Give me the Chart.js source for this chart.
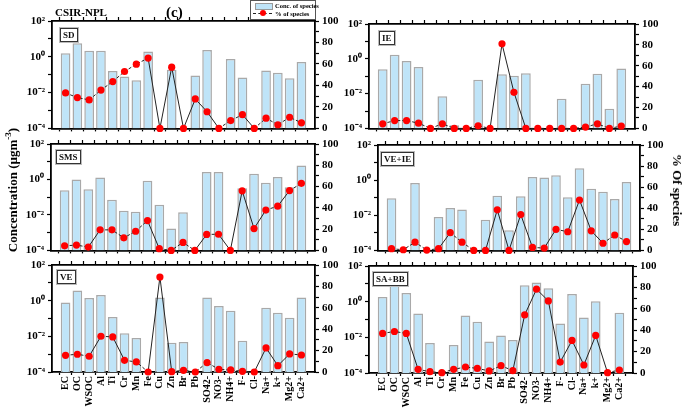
<!DOCTYPE html>
<html><head><meta charset="utf-8">
<script src="https://cdn.jsdelivr.net/npm/chart.js@4/dist/chart.umd.min.js"></script>
<style>
body{margin:0;width:685px;height:412px;position:relative;background:#fff;overflow:hidden;font-family:"Liberation Serif",serif;font-weight:bold;color:#000;}
canvas{position:absolute;}
.t{position:absolute;white-space:nowrap;}
.lab{position:absolute;border:1px solid #333;box-shadow:0 0 0 1px #bbb;background:#fff;font-size:9px;line-height:12px;padding:0 2px;color:#111;}
.rot{position:absolute;white-space:nowrap;font-size:13px;}
</style></head><body>
<div class="t" style="left:55px;top:6px;font-size:11px;">CSIR-NPL</div>
<div class="t" style="left:166px;top:4px;font-size:15px;">(c)</div>
<div class="t" style="left:250px;top:0px;width:64px;height:18px;border:1px solid #555;background:#fff;z-index:5;">
  <div style="position:absolute;left:4px;top:2px;width:16px;height:5px;background:#bfe4f8;border:1px solid #999;"></div>
  <div style="position:absolute;left:24px;top:0px;font-size:6.5px;line-height:9px;">Conc. of species</div>
  <div style="position:absolute;left:2px;top:12px;width:19px;height:0;border-top:1px dashed #222;"></div>
  <div style="position:absolute;left:9px;top:9px;width:6px;height:6px;border-radius:50%;background:#f00;"></div>
  <div style="position:absolute;left:24px;top:8px;font-size:6.5px;line-height:9px;">% of species</div>
</div>
<div class="rot" style="left:12px;top:190px;transform:translate(-50%,-50%) rotate(-90deg);">Concentration (µgm<sup style="font-size:9px">-3</sup>)</div>
<div class="rot" style="left:677px;top:190px;transform:translate(-50%,-50%) rotate(90deg);">% Of species</div>
<div class="lab" style="left:60px;top:28px;z-index:5;">SD</div>
<div class="lab" style="left:379px;top:31px;z-index:5;">IE</div>
<div class="lab" style="left:56px;top:150px;z-index:5;">SMS</div>
<div class="lab" style="left:381px;top:152px;z-index:5;">VE+IE</div>
<div class="lab" style="left:57px;top:270px;z-index:5;">VE</div>
<div class="lab" style="left:373px;top:272px;z-index:5;">SA+BB</div>
<script>
const categories = ['EC','OC','WSOC','Al','Ti','Cr','Mn','Fe','Cu','Zn','Br','Pb','SO42-','NO3-','NH4+','F-','Cl-','Na+','k+','Mg2+','Ca2+'];

const sdConc  = [1.6,5.7,2.2,2.2,0.16,0.08,0.049,2.0,null,0.19,null,0.089,2.4,null,0.76,0.07,null,0.17,0.13,0.063,0.51];
const sdPct   = [33,28.7,26.5,35.7,43.6,53,59.8,65.5,0,57,0,27.4,15.5,0,7.3,12.8,0,9.5,3.4,10.4,5.2];
const ieConc  = [0.25,1.7,0.74,0.34,null,0.007,0.00015,null,0.063,null,0.13,0.105,0.15,null,null,0.005,null,0.037,0.14,0.00135,0.28];
const iePct   = [4.4,7.5,7.5,5,0,4.4,0,0,2.5,0,81,34.6,0,0,0,0,0,1.3,4.4,0,2.2];
const smsConc = [0.25,1.0,0.28,1.3,0.071,0.017,0.015,0.85,0.037,0.0017,0.014,null,2.6,2.6,null,0.32,2.1,0.66,1.4,0.36,6.2];
const smsPct  = [4.3,5,3.1,19.3,19.3,11.8,18,28,1.6,0,7.5,0,15,15.2,0,56,20.5,37.9,41.6,56.2,63];
const veieConc= [0.092,null,0.69,null,0.008,0.026,0.021,null,0.0055,0.13,0.0014,0.12,1.5,1.4,1.9,0.105,4.8,0.32,0.22,0.085,0.79];
const veiePct = [1.6,0.6,7.8,0.3,1.6,16.8,7.8,0,0,38.5,0,34,2.8,2.2,20,17.7,47.8,18.6,6.8,14.6,8.4];
const veConc  = [0.79,3.7,1.4,2.1,0.12,0.015,0.0081,null,1.5,0.0043,0.0048,null,1.5,0.51,0.27,0.0057,null,0.4,0.21,0.11,1.5];
const vePct   = [15.6,16.6,14.7,33.4,32.8,10.9,9.4,0,88.8,0.3,1.6,0,8.8,2.5,1.9,0.6,0,22.5,5.9,16.9,15.9];
const sabbConc= [1.8,8,3.1,0.22,0.0048,null,0.0037,0.17,0.074,0.0059,0.0126,0.0072,8.3,12,5.6,0.06,2.7,0.13,1.05,null,0.24];
const sabbPct = [37,38.8,37,3.4,1.2,0.3,3.4,5.6,4.3,1.9,6.8,2.2,54.3,78.3,67.4,10.2,30.4,7.5,35.1,0.3,2.8];

const logTicks = [1e-4,1e-3,1e-2,1e-1,1,10,100];
const pctTicks = [0,10,20,30,40,50,60,70,80,90,100];

const panels = [
  {conc:sdConc,  pct:sdPct,  L:52, R:315, T:21,  B:130, bottom:false},
  {conc:ieConc,  pct:iePct,  L:369,R:635, T:24,  B:130, bottom:false},
  {conc:smsConc, pct:smsPct, L:51, R:315, T:144, B:252, bottom:false},
  {conc:veieConc,pct:veiePct,L:378,R:640, T:145, B:252, bottom:false},
  {conc:veConc,  pct:vePct,  L:52, R:315, T:265, B:372, bottom:true},
  {conc:sabbConc,pct:sabbPct,L:369,R:633, T:266, B:373, bottom:true}
];

const SUP = {'0':'⁰','1':'¹','2':'²','3':'³','4':'⁴','-':'⁻'};
const sup = n => String(n).split('').map(c=>SUP[c]).join('');
const FONT = {family:"'Liberation Serif', serif", weight:'bold', size:11};
const XFONT = {family:"'Liberation Serif', serif", weight:'bold', size:10};
const BORDER = {display:true, color:'#000', width:1.8};
const GRID = {display:true, drawOnChartArea:false, drawTicks:true, tickLength:4, tickColor:'#000', tickWidth:1.2, color:'#000'};

const WL=45, WR=36, PT=6, TOPH=4;
panels.forEach(p => {
  const hX = p.bottom ? 412 - p.B : 8;
  const c = document.createElement('canvas');
  const w = (p.R - p.L) + WL + WR, h = (p.B - p.T) + PT + TOPH + hX;
  c.width = w; c.height = h;
  c.style.left = (p.L - WL) + 'px'; c.style.top = (p.T - PT - TOPH) + 'px';
  c.style.width = w + 'px'; c.style.height = h + 'px';
  document.body.insertBefore(c, document.body.firstChild);
  const catTicks = s => { s.ticks = categories.map((_,i)=>({value:i})); };
  new Chart(c, {
    type:'bar',
    data:{ datasets:[
      {type:'line', label:'% of species', data:p.pct.map((v,i)=>({x:i,y:v})), xAxisID:'x', yAxisID:'y2',
       borderColor:'#222', borderWidth:1, tension:0,
       segment:{borderDash: ctx => Math.abs(ctx.p1.parsed.y - ctx.p0.parsed.y) > 10 ? [] : [3,2]},
       pointRadius:3.6, pointBackgroundColor:'#ff0000', pointBorderColor:'#ff0000', pointBorderWidth:0,
       clip:false, order:0},
      {type:'bar', label:'Conc. of species', data:p.conc.map((v,i)=>({x:i,y:v})), xAxisID:'x', yAxisID:'y',
       backgroundColor:'#bfe4f8', borderColor:'#a9a9a9', borderWidth:1.5, borderSkipped:'start',
       barPercentage:0.82, categoryPercentage:1, order:1}
    ]},
    options:{
      responsive:false, animation:false, events:[], devicePixelRatio:1,
      layout:{padding:{top:PT, left:0, right:0, bottom:0}},
      plugins:{legend:{display:false}, tooltip:{enabled:false}},
      scales:{
        x:{type:'linear', position:'bottom', min:-1.15, max:21.15, offset:false,
           grid:Object.assign({}, GRID, {tickLength:3}), border:BORDER,
           afterBuildTicks: catTicks,
           ticks:{display:p.bottom, autoSkip:false, minRotation:90, maxRotation:90, padding:1,
                  font:XFONT, color:'#000', callback:(v,i)=>categories[i]},
           afterFit: s => { s.height = hX; }},
        x2:{type:'linear', position:'top', min:-1.15, max:21.15, offset:false,
           grid:GRID, border:BORDER,
           afterBuildTicks: catTicks,
           ticks:{display:false},
           afterFit: s => { s.height = TOPH; }},
        y:{type:'logarithmic', position:'left', min:1e-4, max:100,
           grid:GRID, border:BORDER,
           afterBuildTicks: s => { s.ticks = logTicks.map(v=>({value:v})); },
           ticks:{padding:3, font:FONT, color:'#000', autoSkip:false,
                  callback:(v)=>{ const e=Math.round(Math.log10(v)); return e%2===0 ? '10'+sup(e) : ''; }},
           afterFit: s => { s.width = WL; }},
        y2:{type:'linear', position:'right', min:0, max:100,
           grid:GRID, border:BORDER,
           afterBuildTicks: s => { s.ticks = pctTicks.map(v=>({value:v})); },
           ticks:{padding:3, font:FONT, color:'#000', autoSkip:false,
                  callback:(v)=> v%20===0 ? String(v) : ''},
           afterFit: s => { s.width = WR; }}
      }
    }
  });
});
</script>
</body></html>
